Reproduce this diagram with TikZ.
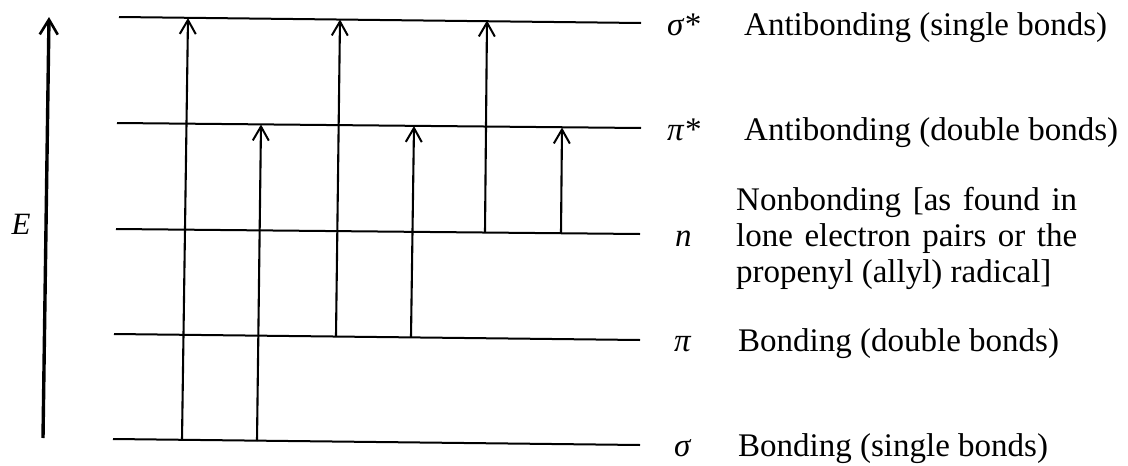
\documentclass[tikz,border=0pt]{standalone}
\usepackage{fontspec}
\setmainfont{Liberation Serif}
\usetikzlibrary{arrows.meta}
\newcommand{\spreadline}[1]{\makebox[341pt][s]{#1}}
\begin{document}
\begin{tikzpicture}[x=1pt,y=-1pt,
  level/.style={line width=2pt},
  trans/.style={line width=2.1pt,-{Straight Barb[length=14pt,width=16pt,line width=2pt]}},
  axis/.style={line width=3.4pt,-{Straight Barb[length=15pt,width=18pt,line width=2.6pt]}},
  sym/.style={font=\fontsize{33}{38}\selectfont\itshape,anchor=base west,inner sep=0pt},
  desc/.style={font=\fontsize{33}{38}\selectfont,anchor=base west,inner sep=0pt}]
\useasboundingbox (0,0) rectangle (1128,466);
% levels
\coordinate (sslA) at (119,17);  \coordinate (sslB) at (641,23);
\coordinate (pslA) at (117,123); \coordinate (pslB) at (641,128);
\coordinate (nlA)  at (116,229); \coordinate (nlB)  at (640,234);
\coordinate (plA)  at (114,334); \coordinate (plB)  at (640,340);
\coordinate (slA)  at (113,439); \coordinate (slB)  at (640,445);
\draw[level] (sslA) -- (sslB);
\draw[level] (pslA) -- (pslB);
\draw[level] (nlA) -- (nlB);
\draw[level] (plA) -- (plB);
\draw[level] (slA) -- (slB);
% energy axis
\coordinate (eA) at (43,438); \coordinate (eB) at (49,17);
\draw[axis] (eA) -- (eB);
\node[font=\fontsize{31}{36}\selectfont\itshape,inner sep=0pt] (E) at (21,224) {E};
% transitions
\coordinate (t1a) at (182,440); \coordinate (t1b) at (188,18);
\coordinate (t2a) at (257,441); \coordinate (t2b) at (261,124.5);
\coordinate (t3a) at (336,336); \coordinate (t3b) at (340,19.5);
\coordinate (t4a) at (411,337); \coordinate (t4b) at (414,126);
\coordinate (t5a) at (485,232.5); \coordinate (t5b) at (487,20.5);
\coordinate (t6a) at (561,233.5); \coordinate (t6b) at (562,127.5);
\draw[trans] (t1a) -- (t1b);
\draw[trans] (t2a) -- (t2b);
\draw[trans] (t3a) -- (t3b);
\draw[trans] (t4a) -- (t4b);
\draw[trans] (t5a) -- (t5b);
\draw[trans] (t6a) -- (t6b);
% labels
\node[sym] (Lss) at (667,35) {σ*};
\node[sym] (Lps) at (667,140) {π*};
\node[sym] (Ln)  at (675,246) {n};
\node[sym] (Lp)  at (674,351) {π};
\node[sym] (Ls)  at (674,456) {σ};
\node[desc] (Dss) at (744,35) {Antibonding (single bonds)};
\node[desc] (Dps) at (744,140) {Antibonding (double bonds)};
\node[desc] (Dn1) at (736,210) {\spreadline{Nonbonding [as found in}};
\node[desc] (Dn2) at (736,246) {\spreadline{lone electron pairs or the}};
\node[desc] (Dn3) at (736,282) {propenyl (allyl) radical]};
\node[desc] (Dp)  at (738,351) {Bonding (double bonds)};
\node[desc] (Ds)  at (738,456) {Bonding (single bonds)};
\end{tikzpicture}
\end{document}
